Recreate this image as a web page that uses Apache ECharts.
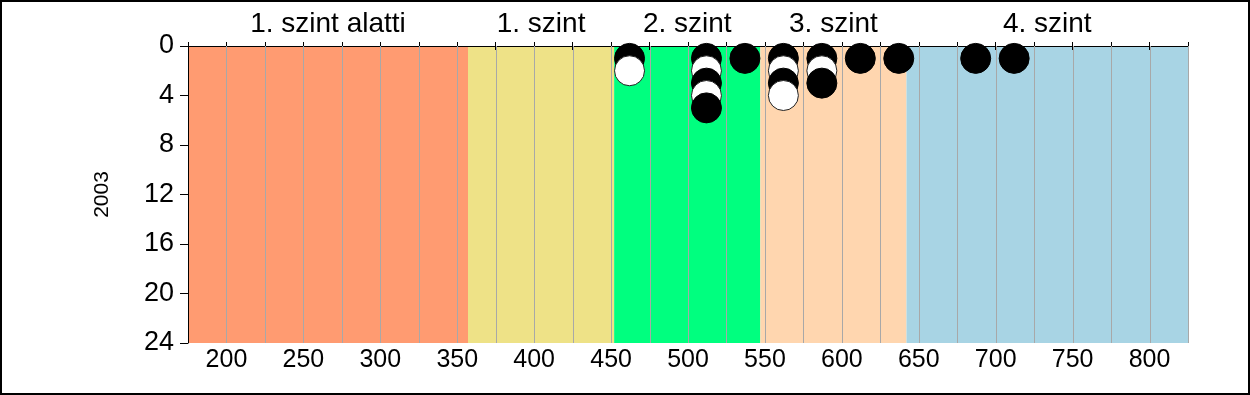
<!DOCTYPE html>
<html>
<head>
<meta charset="utf-8">
<script src="https://cdn.jsdelivr.net/npm/echarts@6/dist/echarts.min.js"></script>
<style>
  html, body { margin: 0; padding: 0; background: #fff; }
  #chart { width: 1250px; height: 395px; box-sizing: border-box; border: 2px solid #000; background: #fff; }
</style>
</head>
<body>
<div id="chart"></div>
<script>
// Level bands (x ranges) and their labels
const bandEdges = [175, 357, 452, 547, 642, 825];
const bandNames = ['1. szint alatti', '1. szint', '2. szint', '3. szint', '4. szint'];
const bandColors = ['#FF9B71', '#EEE287', '#00FF7F', '#FFD6AF', '#A8D4E4'];

// Points: [score, count]
const blackPoints = [[462,1],[512,1],[512,3],[512,5],[537,1],[562,1],[562,3],[587,1],[587,3],[612,1],[637,1],[687,1],[712,1]];
const whitePoints = [[462,2],[512,2],[512,4],[562,2],[562,4],[587,2]];

const yearLabel = '2003';
const xMin = 175, xMax = 825, xStep = 25;
const yMin = 0, yMax = 24, yStep = 4;

const FONT = 'Liberation Sans, Arial, sans-serif';

const pts = blackPoints.map(p => ({ p, c: 'black' }))
  .concat(whitePoints.map(p => ({ p, c: 'white' })))
  .sort((a, b) => (a.p[0] - b.p[0]) || (a.p[1] - b.p[1]))
  .map(o => ({
    value: o.p,
    itemStyle: o.c === 'black'
      ? { color: '#000', borderColor: '#000', borderWidth: 1, opacity: 1 }
      : { color: '#fff', borderColor: '#222', borderWidth: 1, opacity: 1 }
  }));

const areas = bandNames.map((n, i) => [
  { xAxis: bandEdges[i], name: n, itemStyle: { color: bandColors[i], opacity: 1 } },
  { xAxis: bandEdges[i + 1] }
]);

// grid line positions = the axis tick values
const gridTicks = [];
for (let v = xMin + xStep; v <= xMax; v += xStep) gridTicks.push([v]);

const chart = echarts.init(document.getElementById('chart'), null, { renderer: 'canvas' });
chart.setOption({
  animation: false,
  textStyle: { fontFamily: FONT },
  grid: { left: 186, right: 60, top: 44, bottom: 50, containLabel: false },
  xAxis: [
    {
      type: 'value', position: 'bottom', min: xMin, max: xMax, interval: xStep, z: 3,
      axisLine: { show: true, lineStyle: { color: '#000', width: 1 } },
      axisTick: { show: true, length: 4, lineStyle: { color: '#000' } },
      axisLabel: { color: '#000', fontSize: 25, fontFamily: FONT, margin: 5,
        formatter: v => (v % 50 === 0 ? String(v) : '') },
      splitLine: { show: false }
    },
    {
      type: 'value', position: 'top', min: xMin, max: xMax, interval: xStep, z: 3,
      axisLine: { show: true, lineStyle: { color: '#000', width: 1 } },
      axisTick: { show: true, length: 4, lineStyle: { color: '#000' } },
      axisLabel: { show: false },
      splitLine: { show: false }
    }
  ],
  yAxis: {
    type: 'value', inverse: true, min: yMin, max: yMax, interval: yStep, z: 3,
    name: yearLabel, nameLocation: 'middle', nameGap: 75,
    nameTextStyle: { color: '#000', fontSize: 21, fontFamily: FONT },
    axisLine: { show: true, lineStyle: { color: '#000', width: 1 } },
    axisTick: { show: true, length: 8, lineStyle: { color: '#000' } },
    axisLabel: { color: '#000', fontSize: 27, fontFamily: FONT, margin: 14 },
    splitLine: { show: false }
  },
  series: [
    {
      type: 'scatter', data: [], z: 1, silent: true,
      markArea: {
        silent: true,
        label: { show: true, position: 'top', distance: 8, color: '#000', fontSize: 28, fontFamily: FONT },
        data: areas
      }
    },
    {
      type: 'custom', z: 4, silent: true,
      data: gridTicks,
      encode: { x: 0 },
      renderItem: function (params, api) {
        const top = api.coord([api.value(0), yMin]);
        const bot = api.coord([api.value(0), yMax]);
        const x = Math.round(top[0]) + 0.5;
        return {
          type: 'line',
          shape: { x1: x, y1: top[1], x2: x, y2: bot[1] },
          style: { stroke: '#A8A8A8', lineWidth: 1 }
        };
      }
    },
    {
      type: 'scatter', z: 10, symbol: 'circle', symbolSize: 30,
      data: pts
    }
  ]
});
</script>
</body>
</html>
